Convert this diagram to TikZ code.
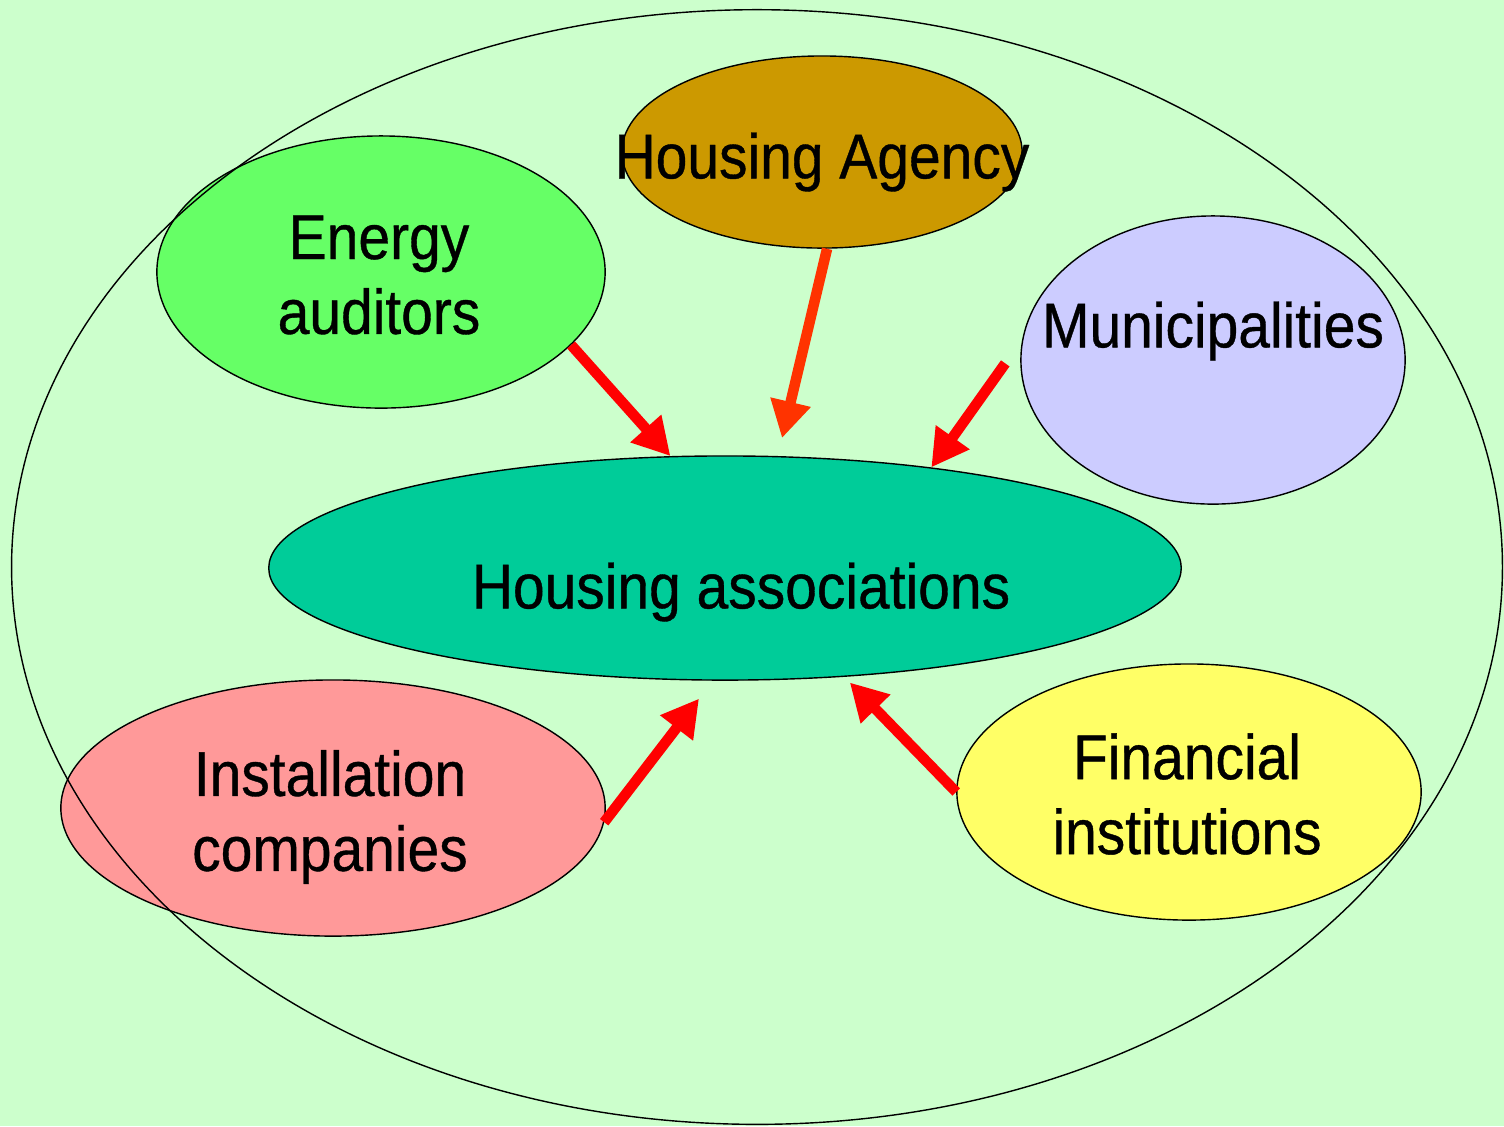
\documentclass[tikz,border=0pt]{standalone}
\usepackage{fontspec}
\setmainfont{Liberation Sans}[FakeStretch=0.9,FakeBold=0.6]
\usetikzlibrary{shapes.geometric,arrows.meta,calc}
\definecolor{bgreen}{HTML}{CCFFCC}
\definecolor{energyc}{HTML}{66FF66}
\definecolor{agencyc}{HTML}{CC9900}
\definecolor{munic}{HTML}{CCCCFF}
\definecolor{assocc}{HTML}{00CC99}
\definecolor{installc}{HTML}{FF9999}
\definecolor{financec}{HTML}{FFFF66}
\definecolor{arrowred}{HTML}{FF0000}
\definecolor{agencyred}{HTML}{FF3300}
\tikzset{blob/.style={ellipse,draw=black,thin,inner sep=0pt}}
\tikzset{tag/.style={align=center,inner sep=0pt,font=\fontsize{18}{21.3}\selectfont}}

\begin{document}
\begin{tikzpicture}[x=0.01cm,y=-0.01cm]
\tikzset{push/.style={line width=0.105cm,-{Triangle[length=0.37cm,width=0.39cm]}}}
\fill[bgreen] (0,0) rectangle (1504,1126);
\useasboundingbox (0,0) rectangle (1504,1126);
\node[blob,fill=energyc,minimum width=4.48cm,minimum height=2.72cm] (energy) at (381,272) {};
\node[blob,fill=agencyc,minimum width=4cm,minimum height=1.92cm] (agency) at (822,152) {};
\node[blob,fill=munic,minimum width=3.84cm,minimum height=2.88cm] (muni) at (1213,360) {};
\node[blob,fill=assocc,minimum width=9.12cm,minimum height=2.24cm] (assoc) at (725,568) {};
\node[blob,fill=installc,minimum width=5.44cm,minimum height=2.56cm] (install) at (333,808) {};
\node[blob,fill=financec,minimum width=4.64cm,minimum height=2.56cm] (finance) at (1189,792) {};
\draw[thin] (757,567) ellipse [x radius=7.45cm, y radius=5.57cm];
\node[tag] (energytxt) at (379,275) {Energy\\auditors};
\node[tag] (agencytxt) at (822,162) {Housing Agency};
\node[tag] (munitxt) at (1213,331) {Municipalities};
\node[tag] (assoctxt) at (741,592) {Housing associations};
\node[tag] (installtxt) at (330,817) {Installation\\companies};
\node[tag] (financetxt) at (1187,794) {Financial\\institutions};
\draw[push,arrowred] (energy.-21) -- (assoc.116);
\draw[push,agencyred] (agency.-87) -- ([yshift=0.18cm]assoc.63);
\draw[push,arrowred] ([xshift=-0.15cm]muni.181) -- (assoc.26);
\draw[push,arrowred] (install.-3) -- ([yshift=-0.18cm]assoc.-103);
\draw[push,arrowred] (finance.west) -- ([yshift=-0.06cm]assoc.-41);
\end{tikzpicture}
\end{document}
